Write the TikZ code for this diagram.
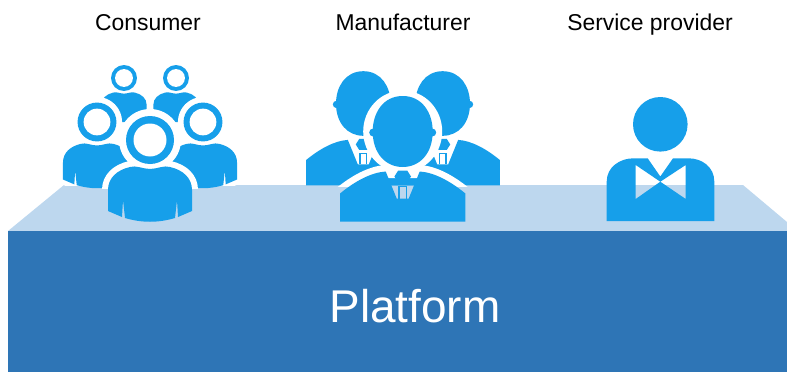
\documentclass[tikz,border=0pt]{standalone}
\usepackage{fontspec}
\setmainfont{Liberation Sans}
\usepackage{tikz}
\definecolor{iconblue}{HTML}{169FEA}
\definecolor{tablefront}{HTML}{2E75B6}
\definecolor{tabletop}{HTML}{BDD7EE}
\tikzset{
  iconfill/.style={fill=iconblue,draw=none},
  halofill/.style={fill=white,draw=none},
  caption/.style={font=\fontsize{22.9}{26}\selectfont,text=black,inner sep=0pt,anchor=base},
}
% head ring and round shoulders, #4 is where the white edge stops
\newcommand{\crowdperson}[4]{
\begin{scope}[shift={(#1,#2)},scale=#3]
\fill[halofill] (0,0) circle (31);
\begin{scope}
\clip (-60,-60) rectangle (60,{(#4-#2)/#3});
\draw[white,line width=#3*12pt,line join=round] (-20,27) .. controls (-33,30) and (-42,38) .. (-42,50) -- (-42,71) -- (-28,77) .. controls (-10,83) and (10,83) .. (28,77) -- (42,71) -- (42,50) .. controls (42,38) and (33,30) .. (20,27) -- cycle;
\end{scope}
\fill[iconfill] (0,29) .. controls (-7,29) and (-14,25) .. (-20,27) .. controls (-33,30) and (-42,38) .. (-42,50) -- (-42,71) -- (-28,77) -- (-27,60) -- (-25,78) .. controls (-8,83) and (8,83) .. (25,78) -- (27,60) -- (28,77) -- (42,71) -- (42,50) .. controls (42,38) and (33,30) .. (20,27) .. controls (14,25) and (7,29) .. (0,29) -- cycle;
\fill[iconfill] (0,0) circle (24);
\fill[halofill] (0,0) circle (16.5);
\end{scope}
}
% egg head, jacket and tie
\newcommand{\suitperson}[3]{
\begin{scope}[shift={(#1,#2)},scale=#3]
\fill[halofill] (0,0) ellipse (39.5 and 41);
\begin{scope}
\clip (-80,-60) rectangle (80,{(186-#2)/#3});
\draw[white,line width=#3*13pt] (-62.7,62) .. controls (-48,50) and (-32,41) .. (-17,40) -- (17,40) .. controls (32,41) and (48,50) .. (62.7,62);
\end{scope}
\fill[iconfill] (-62.7,62) .. controls (-48,50) and (-32,41) .. (-17,40) -- (-6,67) -- (6,67) -- (17,40) .. controls (32,41) and (48,50) .. (62.7,62) -- (62.7,90) -- (-62.7,90) -- cycle;
\fill[iconfill] (0,-35.5) .. controls (20,-35.5) and (30,-18) .. (30,0) .. controls (30,22) and (17,35.5) .. (0,35.5) .. controls (-17,35.5) and (-30,22) .. (-30,0) .. controls (-30,-18) and (-20,-35.5) .. (0,-35.5) -- cycle;
\fill[iconfill] (-29.5,1) circle (4) (29.5,1) circle (4);
\fill[iconfill] (-8.3,45) -- (-4.5,39) -- (4.5,39) -- (8.3,45) -- (4.5,51) -- (-4.5,51) -- cycle;
\draw[iconblue,line width=#3*1.3pt] (-3.6,67) -- (-3.6,55) -- (3.6,55) -- (3.6,67);
\end{scope}
}
\begin{document}
\begin{tikzpicture}[x=1pt,y=-1pt]
\useasboundingbox (0,0) rectangle (787,372);
% table
\fill[tabletop] (8,231) -- (64,185) -- (743,185) -- (787,222) -- (787,231) -- cycle;
\fill[tablefront] (8,231) rectangle (787,372);
\node[text=white,font=\fontsize{45.9}{50}\selectfont,inner sep=0pt] (platform) at (415,306) {Platform};
% consumer
\foreach \x/\y/\s/\c in {124/78/0.54/185,176/78/0.54/185,97/122/0.81/185,203/122/0.81/185,150/140/1/188} {
  \crowdperson{\x}{\y}{\s}{\c}
}
\node[caption] (consumer) at (148,30) {Consumer};
% manufacturer
\foreach \x/\y/\s in {363.3/103.5/0.91,442.7/103.5/0.91,402.7/131.5/1} {
  \suitperson{\x}{\y}{\s}
}
\node[caption] (manufacturer) at (403,30) {Manufacturer};
% service provider
\fill[iconfill] (660.3,124.3) circle (27.3);
\fill[iconfill,even odd rule] (606.7,181.5) .. controls (606.7,167) and (620,158.3) .. (633.5,158.3) -- (647.7,158.3) -- (660.3,176.5) -- (673,158.3) -- (688.5,158.3) .. controls (702,158.3) and (714.3,167) .. (714.3,181.5) -- (714.3,221) -- (606.7,221) -- cycle
 (635.7,165) -- (660.3,181.7) -- (635.7,199) -- cycle
 (685.7,165) -- (660.3,181.7) -- (685.7,199) -- cycle;
\node[caption] (service) at (650,30) {Service provider};
\end{tikzpicture}
\end{document}
